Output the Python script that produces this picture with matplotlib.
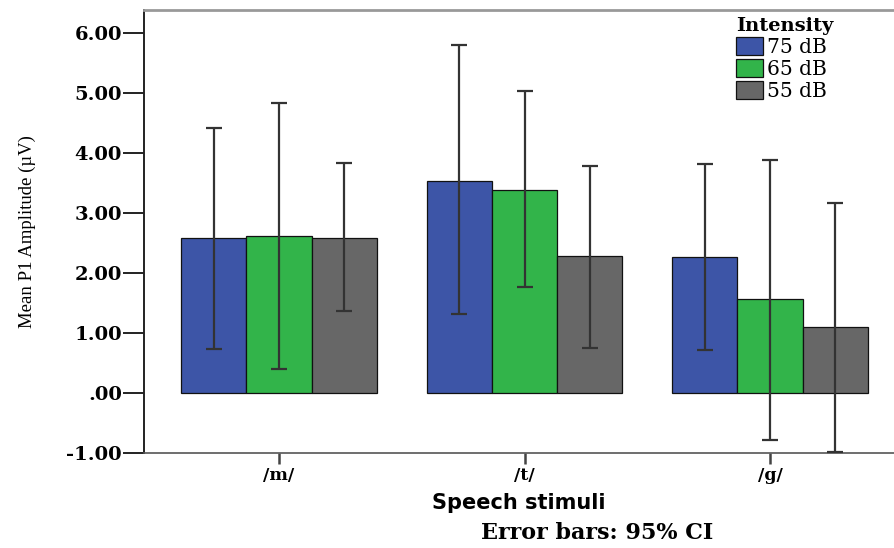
import matplotlib
matplotlib.use("Agg")
import matplotlib.pyplot as plt
import numpy as np

categories = ["/m/", "/t/", "/g/"]
series_names = ["75 dB", "65 dB", "55 dB"]
means_75 = [2.58, 3.54, 2.27]
means_65 = [2.61, 3.39, 1.56]
means_55 = [2.59, 2.28, 1.09]
ci_low_75 = [0.73, 1.31, 0.71]
ci_high_75 = [4.42, 5.80, 3.82]
ci_low_65 = [0.39, 1.76, -0.79]
ci_high_65 = [4.83, 5.03, 3.89]
ci_low_55 = [1.36, 0.75, -0.98]
ci_high_55 = [3.83, 3.79, 3.17]
ytick_values = [-1, 0, 1, 2, 3, 4, 5, 6]
ytick_labels = ["-1.00", ".00", "1.00", "2.00", "3.00", "4.00", "5.00", "6.00"]

colors = ["#3D55A7", "#32B44A", "#676767"]

fig = plt.figure(figsize=(8.94, 5.48), dpi=100)
ax = fig.add_axes([144 / 894, 1 - 452.7 / 548, 1 - 144 / 894, (452.7 - 10) / 548])

means = [means_75, means_65, means_55]
lows = [ci_low_75, ci_low_65, ci_low_55]
highs = [ci_high_75, ci_high_65, ci_high_55]
x = np.arange(len(categories))
w = 0.266
for i in range(3):
    xs = x + (i - 1) * w
    m = np.array(means[i])
    lo = np.array(lows[i])
    hi = np.array(highs[i])
    ax.bar(xs, m, width=w, color=colors[i], edgecolor="#111111", linewidth=0.9,
           label=series_names[i], zorder=2)
    ax.errorbar(xs, m, yerr=[m - lo, hi - m], fmt="none", ecolor="#333333",
                elinewidth=1.6, capsize=6, capthick=1.6, zorder=3)

ax.set_xlim(-0.55, 2.505)
ax.set_ylim(-1.0, 6.39)
ax.set_yticks(ytick_values)
ax.set_yticklabels(ytick_labels, fontfamily="DejaVu Serif", fontweight="bold", fontsize=14)
ax.set_xticks(x)
ax.set_xticklabels(categories, fontfamily="DejaVu Serif", fontweight="bold", fontsize=12.5)

ax.tick_params(axis="y", direction="out", length=15, width=1.4, color="#222222", pad=1)
ax.tick_params(axis="x", direction="out", length=8, width=1.8, color="#444444", pad=2)

ax.spines["right"].set_visible(False)
ax.spines["top"].set_color("#999999")
ax.spines["top"].set_linewidth(2)
ax.spines["left"].set_color("#222222")
ax.spines["left"].set_linewidth(1.4)
ax.spines["bottom"].set_color("#555555")
ax.spines["bottom"].set_linewidth(1.2)

ax.set_ylabel("Mean P1 Amplitude (\u00b5V)", fontfamily="Liberation Serif", fontsize=13.5, labelpad=22)
ax.set_xlabel("Speech stimuli", fontfamily="DejaVu Sans", fontweight="bold", fontsize=15, labelpad=7)

fig.text(0.668, 1 - 533 / 548, "Error bars: 95% CI", ha="center", va="center",
         fontfamily="DejaVu Serif", fontweight="bold", fontsize=16)

leg = ax.legend(loc="upper left", bbox_to_anchor=(736 / 894, 1 - 17 / 548),
                bbox_transform=fig.transFigure, frameon=False,
                prop={"family": "DejaVu Serif", "size": 14.5},
                title="Intensity", title_fontproperties={"family": "DejaVu Serif", "weight": "bold", "size": 14},
                handlelength=1.35, handleheight=1.0, handletextpad=0.2, labelspacing=0.1,
                borderpad=0, borderaxespad=0, alignment="left")

fig.savefig("out.png", dpi=100)
